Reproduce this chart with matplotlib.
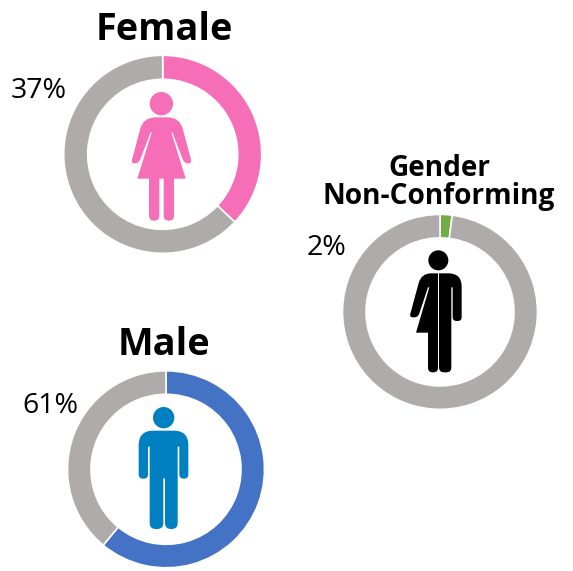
import matplotlib
matplotlib.use("Agg")
import numpy as np
import matplotlib.pyplot as plt
from matplotlib.patches import Circle, PathPatch
from matplotlib.path import Path

plt.rcParams['font.family'] = ['Open Sans', 'DejaVu Sans']

W, H = 573, 571

# values
female_values = [37, 63]
male_values = [61, 39]
other_values = [2, 98]
female_label = "37%"
male_label = "61%"
other_label = "2%"

GREY = "#AFABAB"
PINK = "#F66EB8"
BLUE = "#4472C4"
GREEN = "#70AD47"
ICON_BLUE = "#0080C0"

fig = plt.figure(figsize=(W / 100, H / 100), dpi=100)

# ring drawn in its own axes, placed in pixels
def ring(values, color, cx, cy, r, inner):
    ax = fig.add_axes([(cx - r) / W, 1 - (cy + r) / H, 2 * r / W, 2 * r / H])
    ax.pie(values, colors=[color, GREY], startangle=90, counterclock=False, radius=1,
           wedgeprops=dict(width=(r - inner) / r, edgecolor="white", linewidth=1.2))
    ax.set_xlim(-1, 1)
    ax.set_ylim(-1, 1)
    ax.axis("off")

ring(female_values, PINK, 162.7, 154.3, 99, 75)
ring(other_values, GREEN, 440, 311.9, 97.5, 74)
ring(male_values, BLUE, 166, 469.3, 98.5, 75)

# overlay in pixel coordinates for the icons and text
ov = fig.add_axes([0, 0, 1, 1], facecolor="none")
ov.set_xlim(0, W)
ov.set_ylim(H, 0)
ov.axis("off")

# outline with rounded corners, points are (x, y, corner radius) in 3x crop coords
def shape(pts, color, ox, oy):
    xy = np.array([(p[0], p[1]) for p in pts], dtype=float)
    verts, codes = [], []
    n = len(pts)
    for i in range(n):
        p = xy[i]
        r = pts[i][2]
        a = xy[i - 1] - p
        b = xy[(i + 1) % n] - p
        a = a / np.hypot(*a)
        b = b / np.hypot(*b)
        start = p + a * r
        end = p + b * r
        verts.append(start)
        codes.append(Path.MOVETO if i == 0 else Path.LINETO)
        if r > 0:
            verts += [p, end]
            codes += [Path.CURVE3, Path.CURVE3]
    verts.append(verts[0])
    codes.append(Path.CLOSEPOLY)
    verts = np.array(verts) / 3 + [ox, oy]
    ov.add_patch(PathPatch(Path(verts, codes), fc=color, ec="none", zorder=5))

def head(x, y, r, color, ox, oy):
    ov.add_patch(Circle((x / 3 + ox, y / 3 + oy), r / 3, fc=color, ec="none", zorder=5))

# female icon
shape([(250, 202, 36), (359, 202, 36), (396, 340, 11), (373, 340, 11), (337, 247, 0), (334, 247, 0),
       (377, 386, 0), (342, 386, 0), (342, 512, 15), (311, 512, 15), (311, 386, 0), (298, 386, 0),
       (298, 512, 15), (267, 512, 15), (267, 386, 0), (232, 386, 0), (275, 247, 0), (272, 247, 0),
       (236, 340, 11), (213, 340, 11)], PINK, 60, 50)
head(304, 161, 35, PINK, 60, 50)

# male icon
shape([(236, 197, 44), (385, 197, 44), (385, 341, 13), (358, 341, 13), (358, 245, 0), (353, 245, 0),
       (353, 492, 18), (315, 492, 18), (315, 340, 0), (310, 340, 0), (310, 492, 18), (269, 492, 18),
       (269, 245, 0), (264, 245, 0), (264, 341, 13), (236, 341, 13)], ICON_BLUE, 60, 365)
head(311, 158, 32, ICON_BLUE, 60, 365)

# gender non-conforming icon, two halves
shape([(297, 190, 0), (365, 190, 40), (365, 333, 12), (338, 333, 12), (338, 232, 0), (334, 232, 0),
       (334, 487, 15), (297, 487, 15)], "black", 340, 210)
shape([(244, 190, 30), (294, 190, 0), (294, 487, 14), (264, 487, 14), (264, 368, 0), (228, 368, 0),
       (268, 232, 0), (264, 232, 0), (234, 322, 11), (208, 322, 11)], "black", 340, 210)
head(295, 151, 30, "black", 340, 210)

# text
ov.text(164.5, 30, "Female", ha="center", va="center", fontsize=27.3, fontweight="bold", color="black", zorder=7)
ov.text(164, 345, "Male", ha="center", va="center", fontsize=27.3, fontweight="bold", color="black", zorder=7)
ov.text(439, 182.5, "Gender\nNon-Conforming", ha="center", va="center", fontsize=20.2, fontweight="bold",
        color="black", linespacing=0.98, zorder=7)
ov.text(38.5, 91, female_label, ha="center", va="center", fontsize=20.5, color="black", zorder=7)
ov.text(50.5, 406, male_label, ha="center", va="center", fontsize=20.5, color="black", zorder=7)
ov.text(326, 248, other_label, ha="center", va="center", fontsize=20.5, color="black", zorder=7)

fig.savefig("out.png", dpi=100)
